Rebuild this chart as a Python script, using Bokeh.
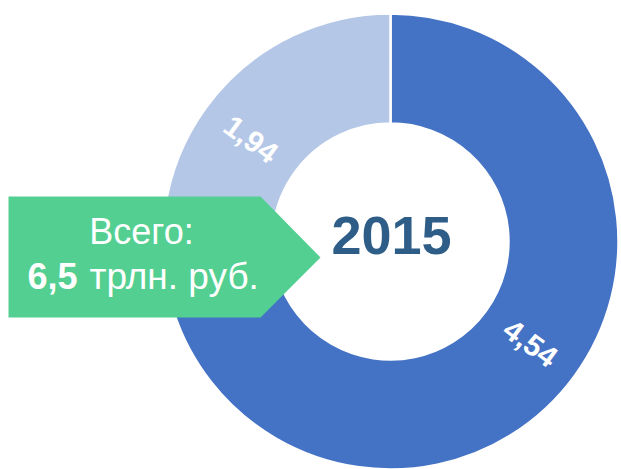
import math
from bokeh.plotting import figure
from bokeh.models import Range1d
from bokeh.core.properties import value
from bokeh.embed import file_html
from bokeh.resources import INLINE

# data
categories = ["A", "B"]
values = [4.54, 1.94]
labels = ["4,54", "1,94"]
colors = ["#4472C4", "#B4C7E7"]
year = "2015"
total_line1 = "Всего:"
total_bold = "6,5"
total_rest = "трлн. руб."

# layout (screen-like coords, y up: data y = H - screen y)
W, H = 621, 469
cx, cy = 390, H - 241
r_out, r_in, r_lab = 228, 118, 173

p = figure(width=W, height=H, x_range=Range1d(0, W), y_range=Range1d(0, H),
           output_backend="svg", toolbar_location=None, min_border=0,
           x_axis_type=None, y_axis_type=None)
p.grid.visible = False
p.outline_line_color = None
p.background_fill_color = "white"

total = sum(values)
start = math.pi / 2  # clockwise from top
sa, ea, la, lx, ly = [], [], [], [], []
for v in values:
    span = 2 * math.pi * v / total
    end = start - span
    sa.append(end)
    ea.append(start)
    mid = (start + end) / 2
    lx.append(cx + r_lab * math.cos(mid))
    ly.append(cy + r_lab * math.sin(mid))
    a = mid
    while a > math.pi / 2:
        a -= math.pi
    while a <= -math.pi / 2:
        a += math.pi
    la.append(a)
    start = end

p.annular_wedge(x=[cx] * len(values), y=[cy] * len(values), inner_radius=r_in, outer_radius=r_out,
                start_angle=sa, end_angle=ea, fill_color=colors, line_color="white", line_width=2.5)

p.text(x=lx, y=ly, text=labels, angle=la, text_align="center", text_baseline="middle",
       text_color="white", text_font=value("Liberation Sans"), text_font_style="bold",
       text_font_size="30px")

p.text(x=[391], y=[H - 234.5], text=[year], text_align="center", text_baseline="middle",
       text_color="#2E5E88", text_font=value("Liberation Sans"), text_font_style="bold",
       text_font_size="54px")

# callout arrow
px = [8, 260, 320, 260, 8]
py = [H - 196, H - 196, H - 257, H - 317, H - 317]
p.patch(px, py, fill_color="#53CF91", line_color=None)

p.text(x=[141], y=[H - 230.5], text=[total_line1], text_align="center", text_baseline="middle",
       text_color="white", text_font=value("Liberation Sans"), text_font_size="36px")
p.text(x=[27], y=[H - 275.5], text=[total_bold], text_align="left", text_baseline="middle",
       text_color="white", text_font=value("Liberation Sans"), text_font_style="bold",
       text_font_size="36px")
p.text(x=[89], y=[H - 275.5], text=[total_rest], text_align="left", text_baseline="middle",
       text_color="white", text_font=value("Liberation Sans"), text_font_size="37px")

open("out.html", "w").write(file_html(p, INLINE))
